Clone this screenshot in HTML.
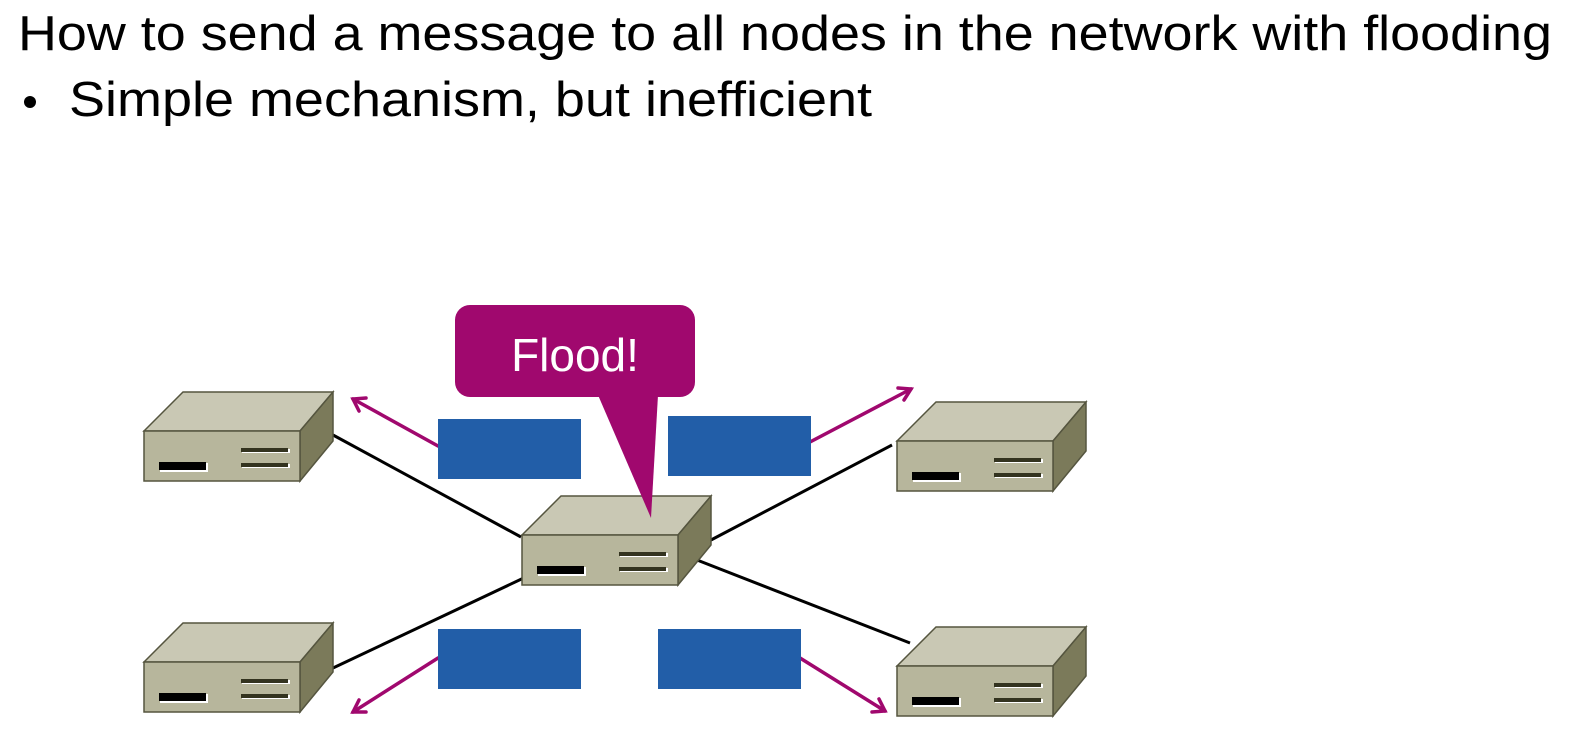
<!DOCTYPE html>
<html><head><meta charset="utf-8"><style>
html,body{margin:0;padding:0;background:#fff;}
svg{display:block;}
</style></head><body>
<svg width="1576" height="744" viewBox="0 0 1576 744" xmlns="http://www.w3.org/2000/svg">
<defs>
<g id="r">
  <polygon points="0,0 39,-39 189,-39 156,0" fill="#c9c8b4" stroke="#55553f" stroke-width="1.5"/>
  <polygon points="156,0 189,-39 189,10 156,50" fill="#7b7a5a" stroke="#55553f" stroke-width="1.5"/>
  <rect x="0" y="0" width="156" height="50" fill="#b7b69c" stroke="#55553f" stroke-width="1.5"/>
  <rect x="16" y="32" width="48" height="9" fill="#fff"/>
  <rect x="15" y="31" width="47" height="8" fill="#000"/>
  <rect x="98" y="18" width="48" height="4" fill="#fff"/>
  <rect x="97" y="17" width="47" height="4" fill="#33331f"/>
  <rect x="98" y="33" width="48" height="4" fill="#fff"/>
  <rect x="97" y="32" width="47" height="4" fill="#33331f"/>
</g>
</defs>
<text x="18" y="50" font-family="Liberation Sans, sans-serif" font-size="49" textLength="1534" lengthAdjust="spacingAndGlyphs">How to send a message to all nodes in the network with flooding</text>
<circle cx="30" cy="102" r="6" fill="#000"/>
<text x="69" y="116" font-family="Liberation Sans, sans-serif" font-size="49" textLength="803" lengthAdjust="spacingAndGlyphs">Simple mechanism, but inefficient</text>

<g stroke="#000" stroke-width="3">
<line x1="333" y1="435" x2="521" y2="537"/>
<line x1="711" y1="540" x2="892" y2="445"/>
<line x1="333" y1="668" x2="530" y2="575"/>
<line x1="697" y1="560" x2="910" y2="643"/>
</g>

<use href="#r" x="144" y="431"/>
<use href="#r" x="144" y="662"/>
<use href="#r" x="897" y="441"/>
<use href="#r" x="897" y="666"/>
<use href="#r" x="522" y="535"/>

<g stroke="#a0086e" stroke-width="3.5" fill="none" stroke-linecap="round">
<line x1="438" y1="446" x2="353" y2="399"/><polyline points="366,398 353,399 359,411"/>
<line x1="810" y1="442" x2="911" y2="389"/><polyline points="898,388 911,389 904,400"/>
<line x1="438" y1="658" x2="353" y2="712"/><polyline points="359,700 353,712 366,712"/>
<line x1="800" y1="658" x2="885" y2="711"/><polyline points="872,712 885,711 879,699"/>
</g>

<g fill="#225ea8">
<rect x="438" y="419" width="143" height="60"/>
<rect x="668" y="416" width="143" height="60"/>
<rect x="438" y="629" width="143" height="60"/>
<rect x="658" y="629" width="143" height="60"/>
</g>

<rect x="455" y="305" width="240" height="92" rx="15" fill="#a0086e"/>
<polygon points="598,395 658,395 651,518" fill="#a0086e"/>
<text x="575" y="371" text-anchor="middle" font-family="Liberation Sans, sans-serif" font-size="46" fill="#fff">Flood!</text>
</svg>
</body></html>
